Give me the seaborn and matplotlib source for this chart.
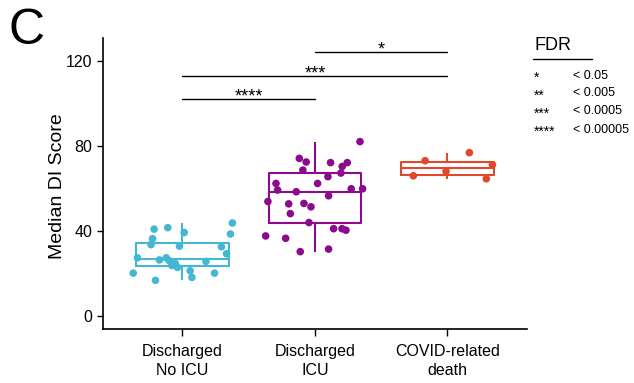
import numpy as np
import pandas as pd
import matplotlib
matplotlib.use("Agg")
import matplotlib.pyplot as plt
import seaborn as sns

sns.set_style("ticks")
plt.rcParams['font.family'] = ['Liberation Sans', 'DejaVu Sans']
plt.rcParams.update({"text.color": "black", "axes.labelcolor": "black",
                     "xtick.color": "black", "ytick.color": "black",
                     "axes.edgecolor": "black"})

categories = ["Discharged\nNo ICU", "Discharged\nICU", "COVID-related\ndeath"]
colors = ["#45b7d3", "#8c0a8c", "#e3482d"]

no_icu = [20.3, 41, 41.7, 39.4, 43.9, 38.7, 36.5, 33.7, 33, 32.7, 29.4, 27.5,
          26.5, 27.5, 26.1, 25.2, 24.9, 23.9, 23, 25.8, 21.4, 18.3, 20.3, 16.9]
no_icu_jit = [-0.372, -0.214, -0.111, 0.013, 0.377, 0.362, -0.226, -0.238, -0.023, 0.294, 0.332, -0.34,
              -0.174, -0.123, -0.098, -0.072, -0.055, -0.08, -0.038, 0.177, 0.058, 0.071, 0.242, -0.204]
icu = [82.2, 74.3, 72.6, 72.3, 72.3, 70.5, 68.8, 67.4, 65.7, 62.5, 62.5, 59.4, 58.6, 60, 60,
       56.7, 54, 52.9, 53.1, 51.5, 48.3, 44.1, 41.2, 41.2, 40.5, 37.8, 36.7, 30.4, 31.6]
icu_jit = [0.34, -0.118, -0.066, 0.118, 0.244, 0.206, -0.091, 0.196, 0.098, -0.294, 0.02, -0.282, -0.141, 0.274, 0.36,
           0.103, -0.355, -0.198, -0.083, -0.03, -0.186, -0.045, 0.141, 0.204, 0.234, -0.372, -0.221, -0.111, 0.103]
death = [73.2, 77, 66.1, 68.2, 71.3, 64.7]
death_jit = [-0.168, 0.166, -0.257, -0.01, 0.34, 0.294]

# significance brackets: (group a, group b, height, label)
brackets = [(0, 1, 102.4, "****"), (0, 2, 113.2, "***"), (1, 2, 124.6, "*")]
fdr_stars = ["*", "**", "***", "****"]
fdr_labels = ["< 0.05", "< 0.005", "< 0.0005", "< 0.00005"]

values = [no_icu, icu, death]
jitters = [no_icu_jit, icu_jit, death_jit]
rows = []
for i, (v, j) in enumerate(zip(values, jitters)):
    for val, jj in zip(v, j):
        rows.append({"group": categories[i], "idx": i, "pos": i + jj, "score": val})
df = pd.DataFrame(rows)

W, H = 634, 383
fig = plt.figure(figsize=(W / 100, H / 100), dpi=100)
ax = fig.add_axes([0.1625, 0.141, 0.6685, 0.760])

sns.boxplot(data=df, x="group", y="score", hue="group", order=categories, hue_order=categories,
            palette=colors, fill=False, width=0.7, whis=(0, 100), showfliers=False,
            showcaps=False, linewidth=1.5, legend=False, ax=ax)
sns.scatterplot(data=df, x="pos", y="score", hue="group", hue_order=categories, palette=colors,
                s=30, edgecolor="none", legend=False, ax=ax, zorder=3)

ax.set_xlim(-0.6, 2.6)
ax.set_ylim(-6, 131)
ax.set_yticks([0, 40, 80, 120])
ax.set_xticks([0, 1, 2])
ax.set_xticklabels(categories, fontsize=11.5, linespacing=1.3)
ax.tick_params(axis="y", labelsize=11.5, length=4, width=1)
ax.tick_params(axis="x", length=5, width=1, pad=6)
ax.set_xlabel("")
ax.set_ylabel("Median DI Score", fontsize=14)
ax.yaxis.set_label_coords(-0.088, 0.49)
for s in ["left", "bottom"]:
    ax.spines[s].set_linewidth(1.2)
sns.despine(ax=ax)

for a, b, h, lab in brackets:
    ax.plot([a, b], [h, h], color="black", lw=1, clip_on=False)
    ax.text((a + b) / 2, h - 1.3, lab, ha="center", va="baseline", fontsize=13)

fig.text(0.014, 1 - 44 / H, "C", fontsize=36, va="baseline", ha="left")

fig.text(535 / W, 1 - 45.7 / H, "FDR", fontsize=13, va="center", ha="left")
fig.add_artist(plt.Line2D([533 / W, 592 / W], [1 - 59.3 / H] * 2, color="black", lw=1,
                          transform=fig.transFigure))
row_px = [74.3, 92, 110, 128.7]
for st, lab, y in zip(fdr_stars, fdr_labels, row_px):
    fig.text(534 / W, 1 - (y + 7.5) / H, st, fontsize=10, va="baseline", ha="left")
    fig.text(573 / W, 1 - (y + 1.5) / H, lab, fontsize=9, va="center", ha="left")

fig.savefig("out.png", dpi=100)
